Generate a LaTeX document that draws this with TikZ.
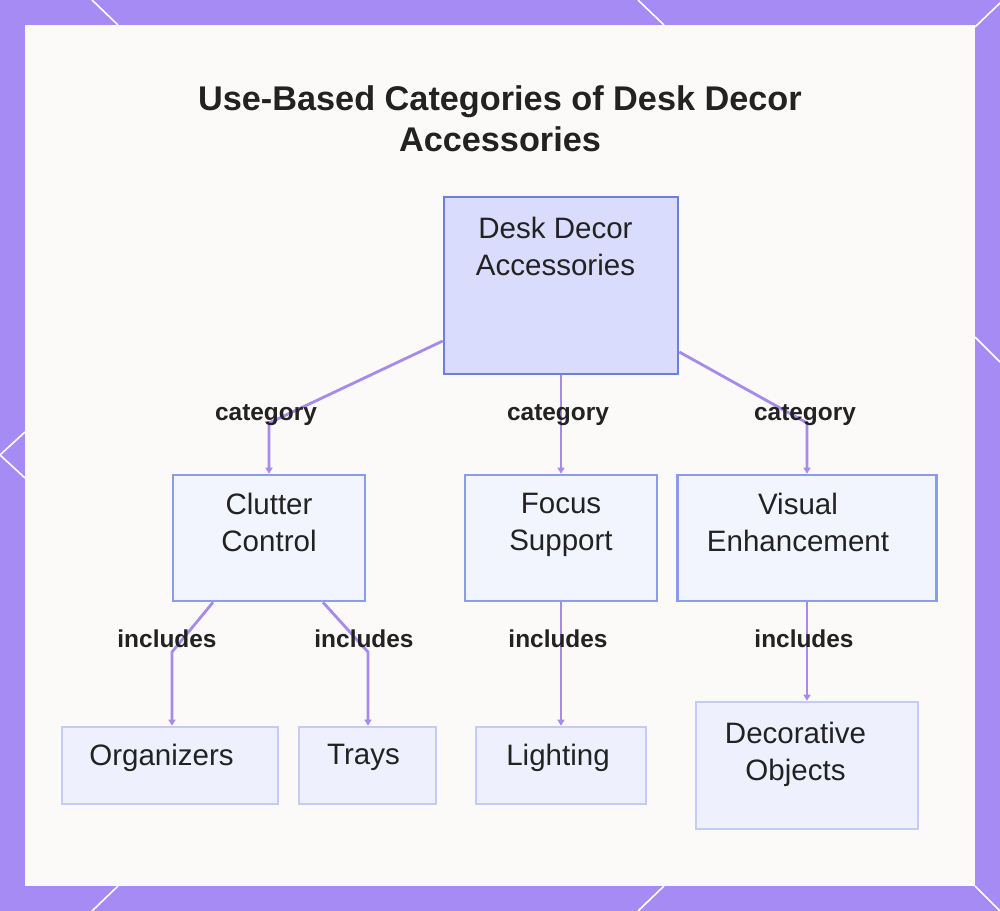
\documentclass[tikz,border=0pt]{standalone}
\usepackage{fontspec}
\setmainfont{Liberation Sans}
\usetikzlibrary{arrows.meta, positioning, calc}
\usepackage{xcolor}
\definecolor{Frame}{HTML}{A78BF5}
\definecolor{Paper}{HTML}{FBFAF9}
\definecolor{Ink}{HTML}{222222}
\definecolor{RootFill}{HTML}{D9DCFC}
\definecolor{RootLine}{HTML}{6E7FD9}
\definecolor{MidFill}{HTML}{F3F5FE}
\definecolor{MidLine}{HTML}{8B9CF0}
\definecolor{LeafFill}{HTML}{EEF1FD}
\definecolor{LeafLine}{HTML}{C3CBF7}
\definecolor{Link}{HTML}{A68BEA}

\begin{document}
\begin{tikzpicture}[
    rootbox/.style={draw=RootLine, fill=RootFill, line width=1.5pt, inner sep=0pt},
    midbox/.style={draw=MidLine, fill=MidFill, line width=1.5pt, inner sep=0pt, minimum height=2.52cm},
    leafbox/.style={draw=LeafLine, fill=LeafFill, line width=1.5pt, inner sep=0pt, minimum height=1.54cm},
    boxtext/.style={anchor=north, inner sep=0pt, align=center, text=Ink,
        font=\fontsize{16.8}{21}\selectfont},
    tag/.style={anchor=base, inner sep=0pt, text=Ink, font=\fontsize{13.9}{16}\selectfont\bfseries},
    arr/.style={-{Triangle[length=1.2mm, width=1.4mm]}, line width=1.6pt, Link, line join=round},
    deco/.style={white, line width=0.9pt}
]

\useasboundingbox (0,0) rectangle (20,-18.22);
\fill[Frame] (0,0) rectangle (20,-18.22);
\fill[Paper] (0.5,-0.5) rectangle (19.5,-17.72);
\draw[deco] (1.84,0) -- (2.36,-0.5);
\draw[deco] (12.76,0) -- (13.28,-0.5);
\draw[deco] (19.5,-0.54) -- (20,-0.06);
\draw[deco] (0.5,-8.64) -- (0,-9.10) -- (0.5,-9.56);
\draw[deco] (19.5,-6.74) -- (20,-7.24);
\draw[deco] (1.84,-18.22) -- (2.36,-17.72);
\draw[deco] (12.76,-18.22) -- (13.28,-17.72);
\draw[deco] (19.5,-17.72) -- (20,-18.22);

\node[anchor=north, align=center, text=Ink, font=\fontsize{19.5}{23.8}\selectfont\bfseries]
    (title) at (10.0,-1.58) {Use-Based Categories of Desk Decor\\Accessories};

\node[rootbox, minimum width=4.68cm, minimum height=3.54cm] (root) at (11.22,-5.71) {};
\node[boxtext] (roottxt) at (11.11,-4.34) {Desk Decor\\Accessories};

\node[midbox, minimum width=3.84cm] (clutter) at (5.38,-10.76) {};
\node[midbox, minimum width=3.84cm] (focus) at (11.22,-10.76) {};
\node[midbox, minimum width=5.18cm] (visual) at (16.14,-10.76) {};
\node[boxtext] (cluttertxt) at (5.38,-9.85) {Clutter\\Control};
\node[boxtext] (focustxt) at (11.22,-9.85) {Focus\\Support};
\node[boxtext] (visualtxt) at (15.96,-9.85) {Visual\\Enhancement};

\node[leafbox, minimum width=4.32cm] (organizers) at (3.40,-15.31) {};
\node[leafbox, minimum width=2.74cm] (trays) at (7.35,-15.31) {};
\node[leafbox, minimum width=3.40cm] (lighting) at (11.22,-15.31) {};
\node[leafbox, minimum width=4.44cm, minimum height=2.54cm] (decorative) at (16.14,-15.31) {};
\node[boxtext] (organizerstxt) at (3.23,-14.88) {Organizers};
\node[boxtext] (traystxt) at (7.27,-14.88) {Trays};
\node[boxtext] (lightingtxt) at (11.16,-14.88) {Lighting};
\node[boxtext] (decorativetxt) at (15.91,-14.44) {Decorative\\Objects};

\coordinate (bendL) at (5.38,-8.46);
\coordinate (bendR) at (16.14,-8.46);
\coordinate (bendO) at (3.44,-13.04);
\coordinate (bendT) at (7.36,-13.04);

\draw[arr] ([yshift=-1.11cm]root.west) -- (bendL) -- (clutter.north);
\draw[arr] (root.south) -- (focus.north);
\draw[arr] ([yshift=-1.33cm]root.east) -- (bendR) -- (visual.north);
\draw[arr] ([xshift=-1.12cm]clutter.south) -- (bendO) -- (bendO |- organizers.north);
\draw[arr] ([xshift=1.08cm]clutter.south) -- (bendT) -- (bendT |- trays.north);
\draw[arr] (focus.south) -- (lighting.north);
\draw[arr] (visual.south) -- (decorative.north);

\node[tag] (cat1) at (5.32,-8.40) {category};
\node[tag] (cat2) at (11.16,-8.40) {category};
\node[tag] (cat3) at (16.10,-8.40) {category};
\node[tag] (inc1) at (3.34,-12.94) {includes};
\node[tag] (inc2) at (7.28,-12.94) {includes};
\node[tag] (inc3) at (11.16,-12.94) {includes};
\node[tag] (inc4) at (16.08,-12.94) {includes};

\end{tikzpicture}
\end{document}
